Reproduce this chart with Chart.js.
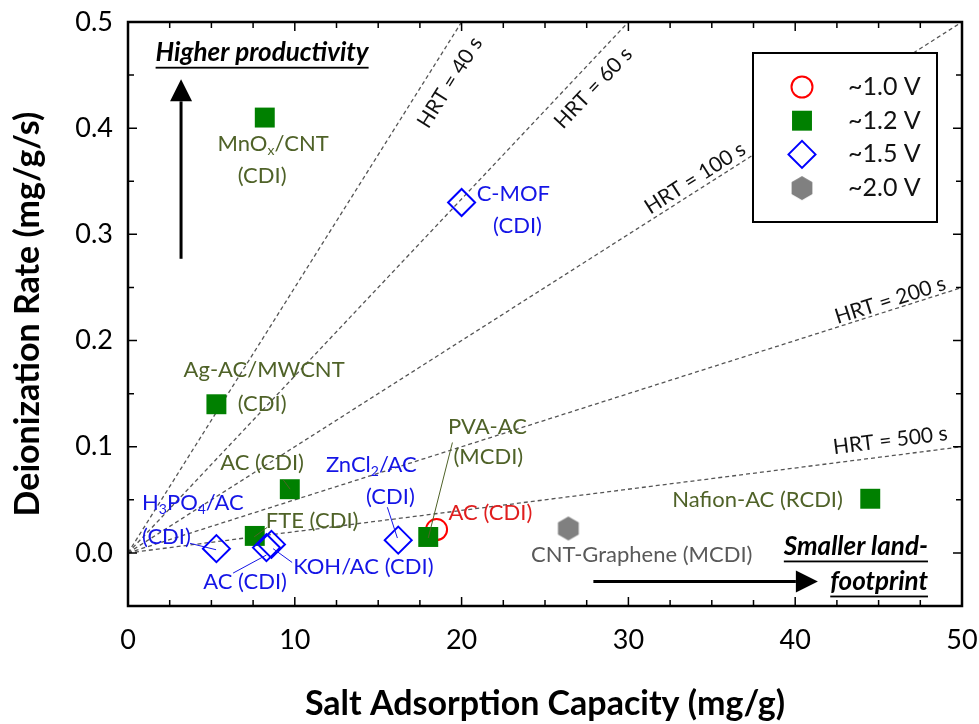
<!DOCTYPE html>
<html>
<head>
<meta charset="utf-8">
<script src="https://cdn.jsdelivr.net/npm/chart.js@4.4.0/dist/chart.umd.min.js"></script>
<style>
  html, body { margin: 0; padding: 0; background: #fff; }
  #wrap { width: 979px; height: 724px; }
</style>
</head>
<body>
<div id="wrap"><canvas id="chart" width="979" height="724"></canvas></div>
<script>
// ── Data ────────────────────────────────────────────────────
const X_TICKS = [0, 10, 20, 30, 40, 50];
const Y_TICKS = [0, 0.1, 0.2, 0.3, 0.4, 0.5];

const SERIES_NAMES = ['~1.0 V', '~1.2 V', '~1.5 V', '~2.0 V'];

// ~1.0 V : AC (CDI)
const V10_X = [18.5];
const V10_Y = [0.022];
// ~1.2 V : MnOx/CNT, Ag-AC/MWCNT, AC, FTE, PVA-AC, Nafion-AC
const V12_X = [8.2, 5.3, 9.7, 7.6, 18.0, 44.5];
const V12_Y = [0.41, 0.14, 0.06, 0.016, 0.015, 0.051];
// ~1.5 V : C-MOF, H3PO4/AC, AC, KOH/AC, ZnCl2/AC
const V15_X = [20.0, 5.3, 8.3, 8.6, 16.2];
const V15_Y = [0.33, 0.004, 0.005, 0.008, 0.012];
// ~2.0 V : CNT-Graphene
const V20_X = [26.4];
const V20_Y = [0.023];

// HRT reference lines (rate = capacity / HRT), end where they leave the plot
const HRT = [40, 60, 100, 200, 500];
const HRT_END_X = [20, 30, 50, 50, 50];
const HRT_END_Y = [0.5, 0.5, 0.5, 0.25, 0.1];
const HRT_LABEL_X = [19.3, 27.9, 34.0, 45.7, 45.7];
const HRT_LABEL_Y = [0.443, 0.438, 0.353, 0.238, 0.106];

// ── Styles ──────────────────────────────────────────────────
const FONT = 'Lato, "Open Sans", sans-serif';
const GREEN = '#008000', BLUE = '#0000ff', RED = '#ff0000', GRAY = '#808080';
const GREEN_TXT = '#4f6228', BLUE_TXT = '#1515e6', RED_TXT = '#e01e1e', GRAY_TXT = '#595959';

function hexCanvas(r, color) {
    const c = document.createElement('canvas');
    const s = Math.ceil(r * 2 + 2);
    c.width = s; c.height = s;
    const g = c.getContext('2d');
    g.fillStyle = color;
    g.beginPath();
    for (let i = 0; i < 6; i++) {
        const a = -Math.PI / 2 + i * Math.PI / 3;
        const px = s / 2 + r * Math.cos(a), py = s / 2 + r * Math.sin(a);
        i ? g.lineTo(px, py) : g.moveTo(px, py);
    }
    g.closePath();
    g.fill();
    return c;
}
const HEX = hexCanvas(12, GRAY);

const MARKERS = [
    { pointStyle: 'circle',  radius: 10.5, borderWidth: 2, backgroundColor: 'rgba(0,0,0,0)', borderColor: RED },
    { pointStyle: 'rect',    radius: 14.1, borderWidth: 0, backgroundColor: GREEN, borderColor: GREEN },
    { pointStyle: 'rectRot', radius: 13.5, borderWidth: 2, backgroundColor: 'rgba(0,0,0,0)', borderColor: BLUE },
    { pointStyle: HEX,       radius: 12,   borderWidth: 0, backgroundColor: GRAY, borderColor: GRAY },
];

// text annotations, in data coordinates; parts: [text, isSubscript]
const LABELS = [
    { parts: [['MnO'], ['x', 1], ['/CNT']], x: 8.7, y: 0.385, color: GREEN_TXT },
    { parts: [['(CDI)']], x: 8.04, y: 0.355, color: GREEN_TXT },
    { parts: [['Ag-AC/MWCNT']], x: 8.16, y: 0.172, color: GREEN_TXT },
    { parts: [['(CDI)']], x: 8.04, y: 0.140, color: GREEN_TXT },
    { parts: [['AC (CDI)']], x: 8.04, y: 0.085, color: GREEN_TXT },
    { parts: [['FTE (CDI)']], x: 11.04, y: 0.030, color: GREEN_TXT },
    { parts: [['PVA-AC']], x: 21.55, y: 0.119, color: GREEN_TXT },
    { parts: [['(MCDI)']], x: 21.6, y: 0.090, color: GREEN_TXT },
    { parts: [['Nafion-AC (RCDI)']], x: 42.86, y: 0.050, color: GREEN_TXT, align: 'right' },
    { parts: [['C-MOF']], x: 23.1, y: 0.338, color: BLUE_TXT },
    { parts: [['(CDI)']], x: 23.35, y: 0.308, color: BLUE_TXT },
    { parts: [['H'], ['3', 1], ['PO'], ['4', 1], ['/AC']], x: 0.84, y: 0.047, color: BLUE_TXT, align: 'left' },
    { parts: [['(CDI)']], x: 0.84, y: 0.015, color: BLUE_TXT, align: 'left' },
    { parts: [['AC (CDI)']], x: 7.02, y: -0.027, color: BLUE_TXT },
    { parts: [['KOH/AC (CDI)']], x: 9.9, y: -0.013, color: BLUE_TXT, align: 'left' },
    { parts: [['ZnCl'], ['2', 1], ['/AC']], x: 14.59, y: 0.083, color: BLUE_TXT },
    { parts: [['(CDI)']], x: 15.73, y: 0.053, color: BLUE_TXT },
    { parts: [['AC (CDI)']], x: 21.73, y: 0.038, color: RED_TXT },
    { parts: [['CNT-Graphene (MCDI)']], x: 30.8, y: -0.002, color: GRAY_TXT },
];

const LEADERS = [
    [9.3, 0.069, 9.72, 0.060, GREEN_TXT],
    [8.34, 0.024, 7.56, 0.015, GREEN_TXT],
    [19.45, 0.104, 18.0, 0.014, GREEN_TXT],
    [3.72, 0.009, 5.28, 0.003, BLUE_TXT],
    [6.3, -0.019, 8.3, -0.002, BLUE_TXT],
    [9.84, -0.009, 8.7, 0.004, BLUE_TXT],
    [15.55, 0.043, 16.15, 0.014, BLUE_TXT],
];

const NOTES = [
    { text: 'Higher productivity', x: 8.04, y: 0.471, align: 'center' },
    { text: 'Smaller land-', x: 47.96, y: 0.006, align: 'right' },
    { text: 'footprint', x: 47.96, y: -0.027, align: 'right' },
];

// ── Helpers ─────────────────────────────────────────────────
function richText(ctx, parts, x, y, align, size, color) {
    const big = size + 'px ' + FONT, small = Math.round(size * 0.62) + 'px ' + FONT;
    let w = 0;
    parts.forEach(p => { ctx.font = p[1] ? small : big; w += ctx.measureText(p[0]).width; });
    let cx = align === 'left' ? x : align === 'right' ? x - w : x - w / 2;
    ctx.fillStyle = color;
    ctx.textAlign = 'left';
    ctx.textBaseline = 'middle';
    parts.forEach(p => {
        ctx.font = p[1] ? small : big;
        ctx.fillText(p[0], cx, p[1] ? y + size * 0.3 : y);
        cx += ctx.measureText(p[0]).width;
    });
}

function arrow(ctx, x1, y1, x2, y2) {
    const a = Math.atan2(y2 - y1, x2 - x1), L = 22, W = 11;
    const bx = x2 - L * Math.cos(a), by = y2 - L * Math.sin(a);
    ctx.strokeStyle = '#000'; ctx.fillStyle = '#000'; ctx.lineWidth = 3;
    ctx.beginPath(); ctx.moveTo(x1, y1); ctx.lineTo(bx, by); ctx.stroke();
    ctx.beginPath();
    ctx.moveTo(x2, y2);
    ctx.lineTo(bx + W * Math.sin(a), by - W * Math.cos(a));
    ctx.lineTo(bx - W * Math.sin(a), by + W * Math.cos(a));
    ctx.closePath(); ctx.fill();
}

const overlay = {
    id: 'overlay',
    afterDraw(chart) {
        const { ctx } = chart;
        const xs = chart.scales.x, ys = chart.scales.y;
        const X = v => xs.getPixelForValue(v), Y = v => ys.getPixelForValue(v);
        // plot frame taken from the scales themselves
        const L = X(xs.min), R = X(xs.max), T = Y(ys.max), B = Y(ys.min);
        ctx.save();

        // HRT labels, rotated along their lines
        HRT.forEach((h, i) => {
            const ang = Math.atan2(Y(HRT_END_Y[i]) - Y(0), X(HRT_END_X[i]) - X(0));
            ctx.save();
            ctx.translate(X(HRT_LABEL_X[i]), Y(HRT_LABEL_Y[i]));
            ctx.rotate(ang);
            ctx.font = '21px ' + FONT;
            ctx.fillStyle = '#111';
            ctx.textAlign = 'center';
            ctx.textBaseline = 'middle';
            ctx.fillText('HRT = ' + h + ' s', 0, 0);
            ctx.restore();
        });

        // leader lines
        ctx.lineWidth = 1;
        LEADERS.forEach(l => {
            ctx.strokeStyle = l[4];
            ctx.beginPath(); ctx.moveTo(X(l[0]), Y(l[1])); ctx.lineTo(X(l[2]), Y(l[3])); ctx.stroke();
        });

        LABELS.forEach(l => richText(ctx, l.parts, X(l.x), Y(l.y), l.align || 'center', 22, l.color));

        // emphasised notes
        ctx.font = 'italic bold 26px ' + FONT;
        ctx.textBaseline = 'middle';
        NOTES.forEach(n => {
            const w = ctx.measureText(n.text).width;
            const px = X(n.x), py = Y(n.y);
            const left = n.align === 'center' ? px - w / 2 : n.align === 'right' ? px - w : px;
            ctx.fillStyle = '#000';
            ctx.textAlign = 'left';
            ctx.fillText(n.text, left, py);
            ctx.fillRect(left, py + 14, w, 1.8);
        });
        arrow(ctx, X(3.18), Y(0.277), X(3.18), Y(0.446));
        arrow(ctx, X(27.9), Y(-0.027), X(41.36), Y(-0.027));

        // legend box
        const lx = 753, ly = 53, lw = 184, lh = 169;
        ctx.fillStyle = '#fff';
        ctx.fillRect(lx, ly, lw, lh);
        ctx.strokeStyle = '#000'; ctx.lineWidth = 2;
        ctx.strokeRect(lx, ly, lw, lh);
        SERIES_NAMES.forEach((name, i) => {
            const m = MARKERS[i], ry = ly + 34 + i * 33.7;
            ctx.fillStyle = m.backgroundColor; ctx.strokeStyle = m.borderColor; ctx.lineWidth = m.borderWidth;
            Chart.helpers.drawPoint(ctx, { pointStyle: m.pointStyle, radius: m.radius, rotation: 0, borderWidth: m.borderWidth }, lx + 49, ry);
            ctx.fillStyle = '#111';
            ctx.font = '25px ' + FONT;
            ctx.textAlign = 'left'; ctx.textBaseline = 'middle';
            ctx.fillText(name, lx + 95, ry);
        });

        // frame and inward ticks (all four sides)
        ctx.strokeStyle = '#000';
        ctx.lineWidth = 2.5;
        ctx.strokeRect(L, T, R - L, B - T);
        ctx.lineWidth = 1.5;
        ctx.beginPath();
        for (let v = 0; v <= 50.001; v += 2.5) {
            const len = Math.abs(v % 10) < 1e-6 ? 9 : 6, px = X(v);
            ctx.moveTo(px, B); ctx.lineTo(px, B - len);
            ctx.moveTo(px, T); ctx.lineTo(px, T + len);
        }
        for (let k = -1; k <= 10; k++) {
            const v = k * 0.05, len = k % 2 === 0 ? 9 : 6, py = Y(v);
            ctx.moveTo(L, py); ctx.lineTo(L + len, py);
            ctx.moveTo(R, py); ctx.lineTo(R - len, py);
        }
        ctx.stroke();
        ctx.restore();
    }
};

// ── Build chart ─────────────────────────────────────────────
const pts = (xs, ys) => xs.map((x, i) => ({ x, y: ys[i] }));

const lineSets = HRT.map((h, i) => ({
    label: 'HRT = ' + h + ' s',
    data: [{ x: 0, y: 0 }, { x: HRT_END_X[i], y: HRT_END_Y[i] }],
    showLine: true,
    borderColor: '#555',
    borderWidth: 1.3,
    borderDash: [4, 3],
    pointRadius: 0,
    order: 10,
}));

const pointSets = [
    { data: pts(V10_X, V10_Y), order: 3 },
    { data: pts(V12_X, V12_Y), order: 1 },
    { data: pts(V15_X, V15_Y), order: 0 },
    { data: pts(V20_X, V20_Y), order: 2 },
].map((d, i) => Object.assign({
    label: SERIES_NAMES[i],
    pointStyle: MARKERS[i].pointStyle,
    pointRadius: MARKERS[i].radius,
    pointBorderWidth: MARKERS[i].borderWidth,
    pointBackgroundColor: MARKERS[i].backgroundColor,
    pointBorderColor: MARKERS[i].borderColor,
    showLine: false,
}, d));

const tickFont = { family: FONT, size: 27 };
const titleFont = { family: FONT, size: 34, weight: 'bold' };

new Chart(document.getElementById('chart'), {
    type: 'scatter',
    data: { datasets: [...lineSets, ...pointSets] },
    options: {
        responsive: false,
        animation: false,
        layout: { padding: { top: 22, right: 17, left: 0, bottom: 0 } },
        plugins: { legend: { display: false }, tooltip: { enabled: false } },
        scales: {
            x: {
                type: 'linear', min: 0, max: 50,
                afterBuildTicks: s => { s.ticks = X_TICKS.map(v => ({ value: v })); },
                afterFit: s => { s.height = 118; s.paddingLeft = 0; s.paddingRight = 0; },
                grid: { display: false, drawTicks: false },
                border: { display: false },
                ticks: { color: '#000', font: tickFont, padding: 18, maxRotation: 0 },
                title: { display: true, text: 'Salt Adsorption Capacity (mg/g)', color: '#000', font: titleFont, padding: { top: 0, bottom: 0 } },
            },
            y: {
                type: 'linear', min: -0.05, max: 0.5,
                afterBuildTicks: s => { s.ticks = Y_TICKS.map(v => ({ value: v })); },
                afterFit: s => { s.width = 128; s.paddingTop = 0; s.paddingBottom = 0; },
                grid: { display: false, drawTicks: false },
                border: { display: false },
                ticks: { color: '#000', font: tickFont, padding: 15, callback: v => v.toFixed(1) },
                title: { display: true, text: 'Deionization Rate (mg/g/s)', color: '#000', font: titleFont, padding: { top: 8, bottom: 0 } },
            },
        },
    },
    plugins: [overlay],
});
</script>
</body>
</html>
